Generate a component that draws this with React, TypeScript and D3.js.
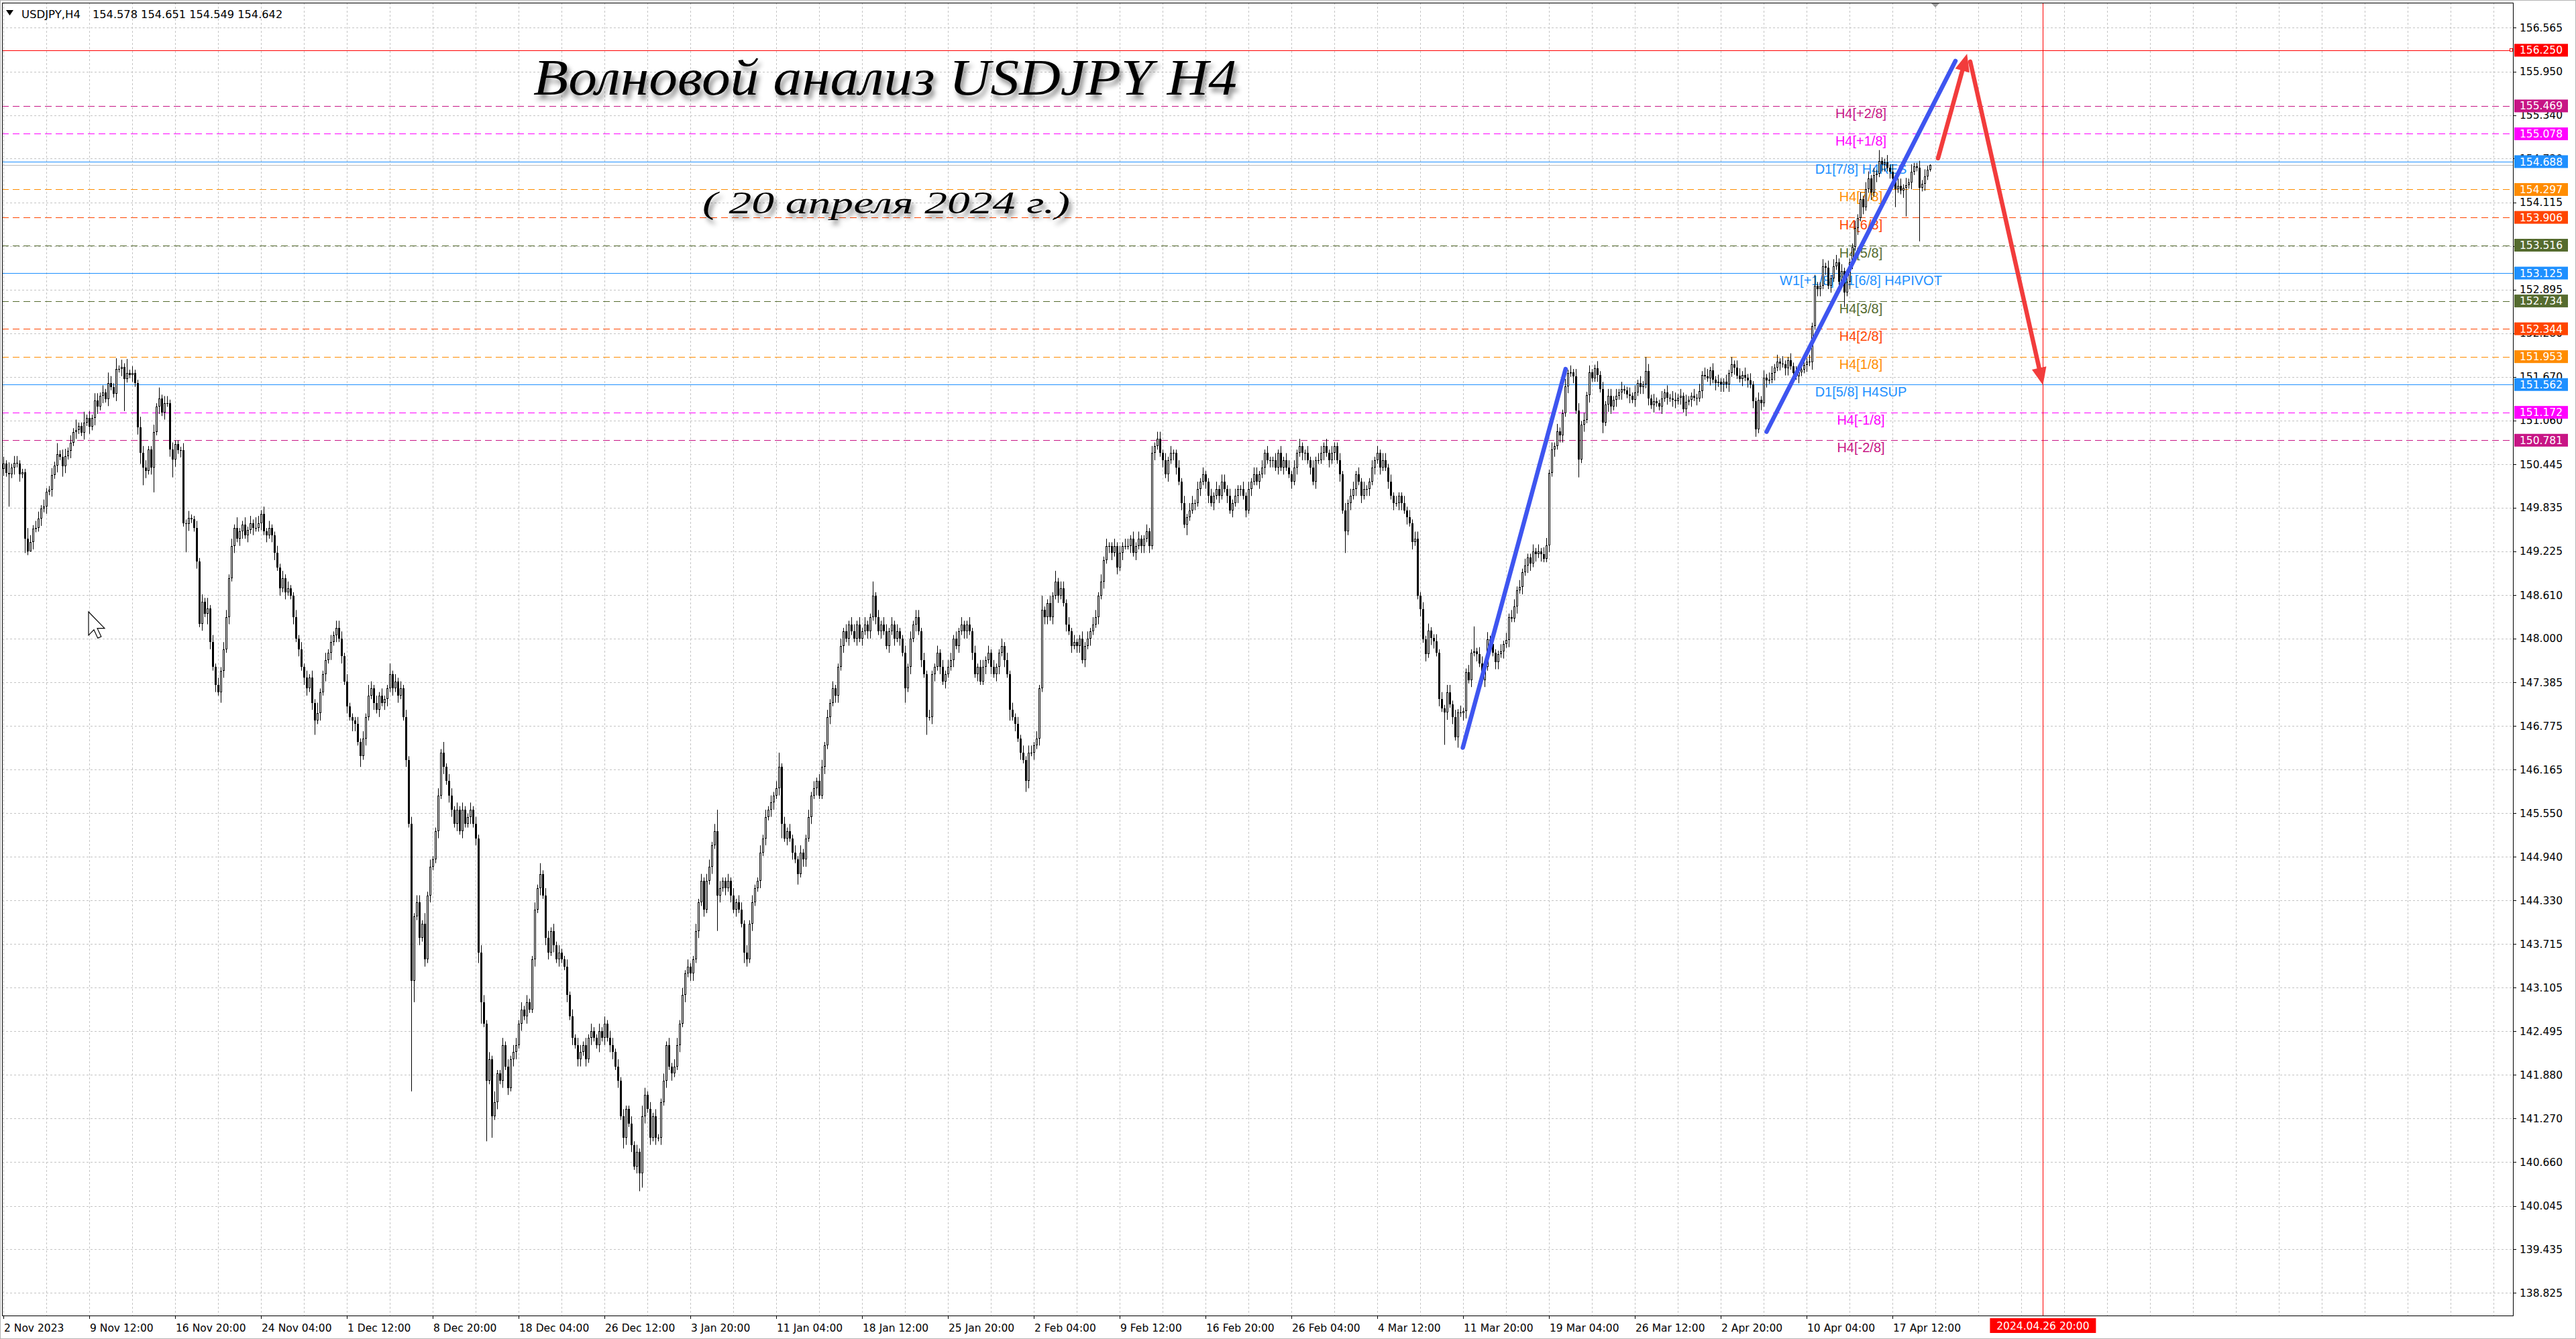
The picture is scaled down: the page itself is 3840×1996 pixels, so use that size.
import React from 'react';
import * as d3 from 'd3';

const W = 3840;
const H = 1996;

// ---- Close prices per bar (H4), grouped by trading day ----
const closesNov = [
  150.45,150.32,150.30,150.40,150.46,
  150.45,150.30,150.33,149.40,149.22,149.35,
  149.54,149.55,149.68,149.82,149.85,150.06,
  150.09,150.29,150.43,150.59,150.55,150.42,
  150.56,150.63,150.75,150.90,150.92,150.98,
  150.89,151.03,151.09,150.97,151.09,151.34,
  151.25,151.40,151.45,151.36,151.58,151.53,
  151.43,151.78,151.78,151.81,151.64,151.72,
  151.70,151.72,151.58,150.96,150.60,150.40,
  150.35,150.65,150.40,150.90,151.25,151.37,
  151.17,151.30,151.30,150.65,150.51,150.73,
  150.64,150.64,149.62,149.61,149.69,149.67,
  149.55,149.08,148.21,148.52,148.35,148.42,
  147.95,147.60,147.35,147.25,147.55,147.85,
  148.30,148.85,149.30,149.55,149.40,149.50,
  149.60,149.45,149.52,149.62,149.55,149.55,
  149.62,149.75,149.50,149.45,149.55,149.45,
  149.20,149.00,148.70,148.85,148.65,148.70,
  148.60,148.30,148.00,147.85,147.60,147.45,
  147.30,147.45,147.10,146.85,146.95,147.25,
  147.50,147.70,147.80,147.95,148.05,148.15,
  148.00,147.75,147.40,147.05,146.90,146.85,
];
const closesDec = [
  146.80,146.55,146.35,146.60,146.90,147.20,
  147.30,147.10,147.00,147.20,147.10,147.15,
  147.30,147.50,147.30,147.40,147.20,147.30,
  146.90,146.30,145.40,143.20,144.10,144.30,
  143.80,144.00,143.50,144.40,144.80,144.90,
  145.30,145.80,146.40,146.20,146.00,145.80,
  145.60,145.40,145.60,145.30,145.60,145.40,
  145.50,145.60,145.40,145.20,143.60,142.90,
  142.60,141.80,142.10,141.30,141.50,141.90,
  141.80,142.30,142.00,141.70,142.10,142.20,
  142.30,142.60,142.80,142.70,142.90,142.80,
  143.50,144.20,144.50,144.70,144.40,143.80,
  143.60,143.90,143.70,143.50,143.60,143.50,
  143.40,143.00,142.70,142.40,142.30,142.10,
  142.20,142.30,142.10,142.40,142.50,142.40,
  142.30,142.50,142.40,142.60,142.40,142.30,
  142.20,142.00,141.80,141.30,141.00,141.40,
  141.20,140.90,140.60,140.80,140.50,141.30,
  141.60,141.40,141.00,141.30,141.00,141.00,
];
const closesJan = [
  141.50,141.80,142.30,142.00,141.90,142.00,
  142.30,142.60,143.00,143.30,143.40,143.30,
  143.50,143.90,144.30,144.60,144.20,144.60,
  144.80,145.10,145.30,144.40,144.50,144.60,
  144.50,144.60,144.40,144.20,144.30,144.20,
  144.00,143.60,143.50,144.00,144.30,144.50,
  144.60,145.00,145.20,145.50,145.60,145.70,
  145.80,145.90,146.20,145.40,145.20,145.30,
  145.20,145.00,144.90,144.70,145.00,144.90,
  145.20,145.50,145.80,145.90,146.00,145.80,
  146.20,146.50,146.90,147.10,147.30,147.20,
  147.60,147.90,148.10,148.00,148.20,148.10,
  148.00,148.20,148.00,148.10,148.20,148.10,
  148.30,148.60,148.30,148.10,148.20,148.10,
  147.90,148.10,148.20,148.00,148.10,148.00,
  147.80,147.30,147.60,148.00,148.20,148.30,
  148.10,147.70,147.50,146.90,146.90,147.50,
  147.60,147.80,147.60,147.40,147.50,147.60,
  147.70,148.00,147.90,148.10,148.20,148.10,
  148.20,148.10,147.80,147.50,147.60,147.40,
  147.60,147.70,147.80,147.60,147.50,147.60,
  147.80,147.90,147.70,147.50,147.00,146.90,
];
const closesFeb = [
  146.80,146.60,146.40,146.30,146.00,146.40,
  146.40,146.50,146.60,147.30,148.40,148.30,
  148.50,148.30,148.60,148.80,148.60,148.70,
  148.50,148.20,148.10,147.90,147.95,147.90,
  148.00,147.70,147.90,148.00,148.10,148.20,
  148.30,148.60,148.80,149.10,149.30,149.30,
  149.20,149.30,149.00,149.20,149.30,149.30,
  149.30,149.40,149.20,149.30,149.40,149.30,
  149.40,149.50,149.30,150.60,150.70,150.80,
  150.60,150.50,150.30,150.50,150.60,150.60,
  150.40,150.20,149.90,149.60,149.70,149.80,
  149.90,149.90,150.10,150.20,150.30,150.20,
  150.00,149.90,150.00,150.10,150.00,150.20,
  150.10,150.00,149.80,149.90,150.00,150.10,
  150.10,150.00,149.80,150.10,150.20,150.30,
  150.20,150.30,150.40,150.60,150.50,150.50,
  150.50,150.40,150.60,150.40,150.50,150.40,
  150.30,150.20,150.40,150.60,150.70,150.60,
  150.60,150.50,150.40,150.20,150.50,150.50,
  150.60,150.70,150.60,150.50,150.60,150.70,
  150.50,150.30,149.80,149.50,149.90,150.00,
  150.10,150.30,150.20,150.00,150.10,150.10,
];
const closesMar = [
  150.20,150.40,150.50,150.60,150.40,150.50,
  150.40,150.20,150.00,149.90,149.90,150.00,
  149.90,149.80,149.70,149.62,149.35,149.40,
  148.60,148.41,147.99,147.78,148.11,148.01,
  147.96,147.80,147.15,147.02,146.96,147.25,
  147.08,146.90,146.62,146.96,146.95,146.98,
  147.53,147.42,147.80,147.82,147.78,147.65,
  147.42,147.60,147.99,147.92,147.80,147.67,
  147.78,147.82,147.92,147.98,148.30,148.28,
  148.45,148.68,148.72,148.93,149.02,149.14,
  149.05,149.22,149.18,149.22,149.18,149.12,
  149.31,150.32,150.65,150.70,150.91,150.85,
  151.16,151.54,151.72,151.73,151.68,151.20,
  150.51,151.00,151.07,151.41,151.73,151.65,
  151.79,151.70,151.50,151.03,151.28,151.40,
  151.25,151.35,151.40,151.45,151.50,151.48,
  151.42,151.40,151.35,151.45,151.58,151.53,
  151.56,151.75,151.37,151.27,151.33,151.30,
  151.25,151.37,151.45,151.38,151.37,151.35,
  151.33,151.38,151.40,151.22,151.32,151.35,
];
const closesApr = [
  151.40,151.38,151.37,151.47,151.70,151.68,
  151.65,151.76,151.63,151.58,151.60,151.56,
  151.60,151.56,151.72,151.85,151.80,151.69,
  151.64,151.70,151.66,151.62,151.56,151.33,
  150.93,151.35,151.30,151.66,151.62,151.63,
  151.72,151.80,151.88,151.86,151.85,151.79,
  151.90,151.82,151.72,151.68,151.73,151.77,
  151.84,151.88,151.87,152.38,152.95,152.90,
  152.95,153.22,153.20,152.95,153.05,153.22,
  153.28,153.00,153.15,152.85,153.00,153.28,
  153.49,153.76,153.90,154.16,154.05,154.30,
  154.45,154.25,154.50,154.52,154.70,154.65,
  154.68,154.60,154.55,154.45,154.30,154.35,
  154.28,154.32,154.36,154.40,154.55,154.62,
  154.60,154.32,154.38,154.48,154.578,154.642,
];

// ---- Wick lengths per bar (base-36 digits, unit 0.05) ----
const wickUpNov = "21312 211132 122121 121312 212131 131212 212132 131214 121132 211213 122121 112121 121213 121212 212131 121213 212121 121212 112121 212131 121212 221211";
const wickDnNov = "21912 121410 211212 121213 212121 121212 212121 121291 121235 212712 121252 121821 121213 212132 121212 212121 121212 212121 121212 212412 121212 121213";
const wickUpDec = "121213 212121 131212 121212 213121 121312 212121 121212 212131 121212 212121 121312 212121 121212 212121 121212 212121 121213 212121";
const wickDnDec = "213121 121212 212121 121v61 212121 121212 212121 121236 1h1612 121212 212121 121212 212121 121212 212121 121212 212132 121254 212121";
const wickUpJan = "121212 212121 121212 212621 121212 212121 121212 124121 212121 121212 212121 121212 212121 141212 212121 121212 212121 121212 212121 121212 212121 121212";
const wickDnJan = "212121 121212 212121 121a21 212121 132121 121212 212412 121312 212121 121212 212121 121212 212121 121212 141212 121512 212121 121212 212121 121212 212131";
const wickUpFeb = "121212 212141 121312 212121 121212 212121 121212 212121 121212 212121 121212 212121 121212 212121 121212 212121 121212 212121 121212 212121 121212 212121";
const wickDnFeb = "212132 121212 212121 121212 212121 121212 212121 121212 212121 121212 212131 121212 212121 121212 212121 121212 212121 121212 212121 121212 121612 121212";
const wickUpMar = "121212 212121 121212 212121 121212 212121 121712 212121 121212 212121 121212 212121 121212 212121 121212 212121 121212 142121 121212 212121";
const wickDnMar = "212121 121212 212121 121212 212192 121312 212121 121212 212121 121212 212121 121212 212121 512121 121312 212121 121212 212121 121212 212121";
const wickUpApr = "121212 212121 121212 212121 121212 212121 121212 212131 121212 212121 121212 212131 121212 212121 121210";
const wickDnApr = "212121 121212 212121 121212 212121 121212 212121 121212 212121 121412 212121 121212 212151 128121 1f1211";

const firstOpen = 150.38;
const lastBar = [154.578, 154.651, 154.549, 154.642]; // O H L C

// ---- Axes ----
const priceTicks = [156.565, 155.950, 155.340, 154.730, 154.115, 153.505, 152.895, 152.280, 151.670, 151.060, 150.445, 149.835, 149.225, 148.610, 148.000, 147.385, 146.775, 146.165, 145.550, 144.940, 144.330, 143.715, 143.105, 142.495, 141.880, 141.270, 140.660, 140.045, 139.435, 138.825];
const timeLabels = ["2 Nov 2023", "9 Nov 12:00", "16 Nov 20:00", "24 Nov 04:00", "1 Dec 12:00", "8 Dec 20:00", "18 Dec 04:00", "26 Dec 12:00", "3 Jan 20:00", "11 Jan 04:00", "18 Jan 12:00", "25 Jan 20:00", "2 Feb 04:00", "9 Feb 12:00", "16 Feb 20:00", "26 Feb 04:00", "4 Mar 12:00", "11 Mar 20:00", "19 Mar 04:00", "26 Mar 12:00", "2 Apr 20:00", "10 Apr 04:00", "17 Apr 12:00"];

// ---- Murrey levels ----
const levelPrices = [155.469, 155.078, 154.688, 154.297, 153.906, 153.516, 153.125, 152.734, 152.344, 151.953, 151.562, 151.172, 150.781];
const levelNames = ["H4[+2/8]", "H4[+1/8]", "D1[7/8] H4RES", "H4[7/8]", "H4[6/8]", "H4[5/8]", "W1[+1/8] D1[6/8] H4PIVOT", "H4[3/8]", "H4[2/8]", "H4[1/8]", "D1[5/8] H4SUP", "H4[-1/8]", "H4[-2/8]"];
const levelColors = ["#C71585", "#FF00FF", "#1E90FF", "#FF8C00", "#FF4500", "#556B2F", "#1E90FF", "#556B2F", "#FF4500", "#FF8C00", "#1E90FF", "#FF00FF", "#C71585"];
const levelSolid = [false, false, true, false, false, false, true, false, false, false, true, false, false];
const targetPrice = 156.25;
const bidPrice = 154.642;

// ---- Annotations: [barIndex, price] ----
const blueWave1 = [[543.9, 146.47], [582.2, 151.78]];
const blueWave2 = [[657.1, 150.90], [727.5, 156.10]];
const redUp = [[721.0, 154.735], [731.8, 156.20]];
const redDown = [[733.0, 156.09], [760.1, 151.555]];
const futureIndex = 760.1;
const futureLabel = "2024.04.26 20:00";

const title = "Волновой анализ USDJPY H4";
const subtitle = "( 20 апреля 2024 г.)";

const decode = (s: string) => s.replace(/\s+/g, '').split('').map((ch) => parseInt(ch, 36));
const WICK_UNIT = 0.05;

const closes = [...closesNov, ...closesDec, ...closesJan, ...closesFeb, ...closesMar, ...closesApr];
const ups = decode(wickUpNov + wickUpDec + wickUpJan + wickUpFeb + wickUpMar + wickUpApr);
const dns = decode(wickDnNov + wickDnDec + wickDnJan + wickDnFeb + wickDnMar + wickDnApr);

const bars = closes.map((c, i) => {
  const o = i === 0 ? firstOpen : closes[i - 1];
  const h = Math.max(o, c) + (ups[i] || 0) * WICK_UNIT;
  const l = Math.min(o, c) - (dns[i] || 0) * WICK_UNIT;
  return { o, h, l, c };
});
bars[bars.length - 1] = { o: lastBar[0], h: lastBar[1], l: lastBar[2], c: lastBar[3] };

const PL = 3, PR = 3746, PT = 4, PB = 1961;

export default function App() {
  const x = d3.scaleLinear().domain([0, closes.length - 1]).range([5, 2877]);
  const y = d3.scaleLinear().domain([138.825, 156.565]).range([1927.2, 41.4]);

  const axisFont = "'DejaVu Sans', Verdana, sans-serif";
  const labelFont = "'Liberation Sans', Arial, sans-serif";

  const vGrid = d3.range(0, 59).map((k) => x(k * 16));
  const pt = (p: number[]) => [x(p[0]), y(p[1])];

  const arrowHead = (from: number[], to: number[], len = 26, half = 11) => {
    const [x1, y1] = pt(from);
    const [x2, y2] = pt(to);
    const a = Math.atan2(y2 - y1, x2 - x1);
    const bx = x2 - len * Math.cos(a), by = y2 - len * Math.sin(a);
    const nx = -Math.sin(a) * half, ny = Math.cos(a) * half;
    return { line: [x1, y1, bx + len * 0.3 * Math.cos(a), by + len * 0.3 * Math.sin(a)], poly: `${x2},${y2} ${bx + nx},${by + ny} ${bx - nx},${by - ny}` };
  };
  const ra1 = arrowHead(redUp[0], redUp[1]);
  const ra2 = arrowHead(redDown[0], redDown[1]);
  const redColor = '#F23C3C';
  const blueColor = '#3E55F0';
  const waveWidth = 6.5;

  return (
    <svg width={W} height={H} viewBox={`0 0 ${W} ${H}`} style={{ position: 'absolute', left: 0, top: 0, background: '#fff' }}>
      <defs>
        <clipPath id="plot"><rect x={PL} y={PT} width={PR - PL} height={PB - PT} /></clipPath>
        <filter id="shadow" x="-10%" y="-30%" width="120%" height="170%">
          <feDropShadow dx="4" dy="7" stdDeviation="3.5" floodColor="#000" floodOpacity="0.45" />
        </filter>
      </defs>
      <rect x={0} y={0} width={W} height={H} fill="#fff" />
      <rect x={0.5} y={0.5} width={W - 1} height={H - 1} fill="none" stroke="#b4b4b4" />

      <g clipPath="url(#plot)">
        {priceTicks.map((p, i) => (
          <line key={'hg' + i} x1={PL} x2={PR} y1={Math.round(y(p)) + 0.5} y2={Math.round(y(p)) + 0.5} stroke="#c4c4c4" strokeDasharray="3,3" />
        ))}
        {vGrid.map((gx, i) => (
          <line key={'vg' + i} x1={Math.round(gx) + 0.5} x2={Math.round(gx) + 0.5} y1={PT} y2={PB} stroke="#c4c4c4" strokeDasharray="3,3" />
        ))}

        <line x1={PL} x2={PR} y1={Math.round(y(targetPrice)) + 0.5} y2={Math.round(y(targetPrice)) + 0.5} stroke="#FF0000" strokeWidth={1.2} />
        {levelPrices.map((p, i) => (
          <line key={'lv' + i} x1={PL} x2={PR} y1={Math.round(y(p)) + 0.5} y2={Math.round(y(p)) + 0.5} stroke={levelColors[i]} strokeWidth={1.2} strokeDasharray={levelSolid[i] ? undefined : '10,6'} />
        ))}
        <line x1={PL} x2={PR} y1={Math.round(y(bidPrice)) + 0.5} y2={Math.round(y(bidPrice)) + 0.5} stroke="#bdbdbd" strokeWidth={1.2} />
        {levelNames.map((n, i) => (
          <text key={'ln' + i} x={2774} y={y(levelPrices[i]) + 18} textAnchor="middle" fontFamily={labelFont} fontSize={20} fill={levelColors[i]}>{n}</text>
        ))}

        <line x1={Math.round(x(futureIndex)) + 0.5} x2={Math.round(x(futureIndex)) + 0.5} y1={PT} y2={PB} stroke="#FF0000" strokeWidth={1} />

        {bars.map((b, i) => {
          const cx = Math.round(x(i));
          const bull = b.c >= b.o;
          const top = Math.round(y(Math.max(b.o, b.c)));
          const bot = Math.round(y(Math.min(b.o, b.c)));
          return (
            <g key={'c' + i}>
              <line x1={cx + 0.5} x2={cx + 0.5} y1={y(b.h)} y2={y(b.l)} stroke="#000" strokeWidth={1} />
              {bot - top < 1 ? (
                <line x1={cx - 1} x2={cx + 2} y1={top + 0.5} y2={top + 0.5} stroke="#000" />
              ) : bull ? (
                <rect x={cx - 0.5} y={top + 0.5} width={2} height={Math.max(bot - top - 1, 0.5)} fill="#fff" stroke="#000" strokeWidth={1} />
              ) : (
                <rect x={cx - 1} y={top} width={3} height={bot - top} fill="#000" />
              )}
            </g>
          );
        })}

        <line x1={pt(blueWave1[0])[0]} y1={pt(blueWave1[0])[1]} x2={pt(blueWave1[1])[0]} y2={pt(blueWave1[1])[1]} stroke={blueColor} strokeWidth={waveWidth} strokeLinecap="round" />
        <line x1={pt(blueWave2[0])[0]} y1={pt(blueWave2[0])[1]} x2={pt(blueWave2[1])[0]} y2={pt(blueWave2[1])[1]} stroke={blueColor} strokeWidth={waveWidth} strokeLinecap="round" />
        <line x1={ra1.line[0]} y1={ra1.line[1]} x2={ra1.line[2]} y2={ra1.line[3]} stroke={redColor} strokeWidth={waveWidth} strokeLinecap="round" />
        <polygon points={ra1.poly} fill={redColor} />
        <line x1={ra2.line[0]} y1={ra2.line[1]} x2={ra2.line[2]} y2={ra2.line[3]} stroke={redColor} strokeWidth={waveWidth} strokeLinecap="round" />
        <polygon points={ra2.poly} fill={redColor} />

        <text x={795} y={141} fontFamily="'Liberation Serif', 'DejaVu Serif', serif" fontStyle="italic" fontSize={76} fill="#000" textLength={1049} lengthAdjust="spacingAndGlyphs" filter="url(#shadow)">{title}</text>
        <text x={1047} y={318} fontFamily="'Liberation Serif', 'DejaVu Serif', serif" fontStyle="italic" fontSize={46} fill="#000" textLength={548} lengthAdjust="spacingAndGlyphs" filter="url(#shadow)">{subtitle}</text>

        <path transform="translate(132,912) scale(1.45)" d="M0,0 L0,24 L5.5,18.5 L9.5,27 L13,25.5 L9,17 L16.5,17 Z" fill="#fff" stroke="#000" strokeWidth={0.8} />
      </g>

      <polygon points={`${2879},${5} ${2891},${5} ${2885},${11}`} fill="#9a9a9a" />

      <rect x={PL + 0.5} y={PT + 0.5} width={PR - PL} height={PB - PT} fill="none" stroke="#000" strokeWidth={1} />

      <polygon points="9,15 20,15 14.5,23" fill="#000" />
      <text x={32} y={27} fontFamily={axisFont} fontSize={16.5} fill="#000">USDJPY,H4</text>
      <text x={138} y={27} fontFamily={axisFont} fontSize={16.2} fill="#000">{lastBar.map((v) => v.toFixed(3)).join(' ')}</text>

      {priceTicks.map((p, i) => (
        <g key={'pt' + i}>
          <line x1={PR} x2={PR + 5} y1={Math.round(y(p)) + 0.5} y2={Math.round(y(p)) + 0.5} stroke="#000" />
          <text x={3756} y={y(p)} dy="0.36em" fontFamily={axisFont} fontSize={15.5} fill="#000">{p.toFixed(3)}</text>
        </g>
      ))}
      {[targetPrice, ...levelPrices].map((p, i) => {
        const col = i === 0 ? '#FF0000' : levelColors[i - 1];
        return (
          <g key={'pb' + i}>
            <rect x={3748} y={y(p) - 9.5} width={80} height={19} fill={col} />
            <text x={3756} y={y(p)} dy="0.36em" fontFamily={axisFont} fontSize={15.5} fill="#fff">{p.toFixed(3)}</text>
          </g>
        );
      })}
      <rect x={PR - 4.5} y={y(targetPrice) - 2.5} width={4} height={4} fill="#fff" stroke="#FF0000" />

      {timeLabels.map((t, k) => {
        const tx = Math.round(x(k * 32));
        return (
          <g key={'tl' + k}>
            <line x1={tx + 0.5} x2={tx + 0.5} y1={PB} y2={PB + 5} stroke="#000" />
            <text x={tx + 1} y={1985} fontFamily={axisFont} fontSize={15.5} fill="#000">{t}</text>
          </g>
        );
      })}
      <rect x={x(futureIndex) - 79} y={1965} width={158} height={22} fill="#FF0000" />
      <text x={x(futureIndex)} y={1981.5} textAnchor="middle" fontFamily={axisFont} fontSize={15.5} fill="#fff">{futureLabel}</text>
    </svg>
  );
}
